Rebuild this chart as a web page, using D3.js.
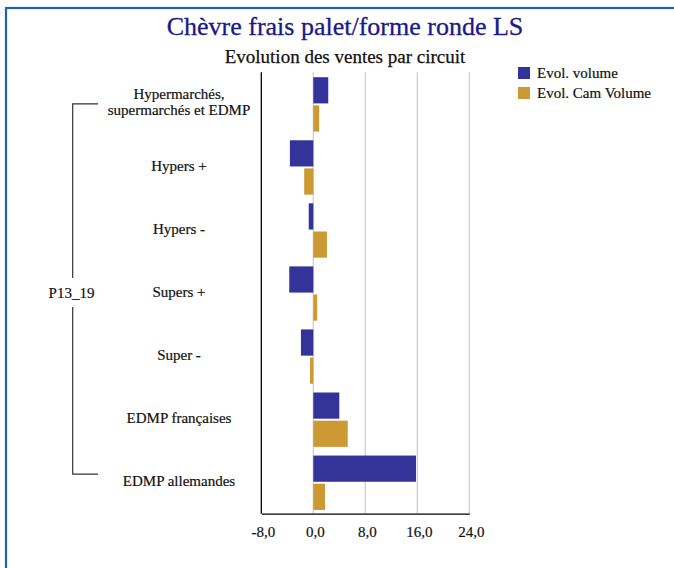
<!DOCTYPE html>
<html>
<head>
<meta charset="utf-8">
<script src="https://cdn.jsdelivr.net/npm/d3@7"></script>
<style>
  html, body { margin: 0; padding: 0; background: #fff; }
  svg { display: block; }
  text { font-family: "Liberation Serif", "Times New Roman", serif; }
</style>
</head>
<body>
<script>
const categories = [
  ["Hypermarchés,", "supermarchés et EDMP"],
  ["Hypers +"],
  ["Hypers -"],
  ["Supers +"],
  ["Super -"],
  ["EDMP françaises"],
  ["EDMP allemandes"]
];
const seriesNames = ["Evol. volume", "Evol. Cam Volume"];
const evolVolume    = [2.3, -3.6, -0.7, -3.7, -1.9, 4.0, 15.8];
const evolCamVolume = [0.9, -1.4,  2.1,  0.6, -0.5, 5.3,  1.8];
const tickValues = [-8, 0, 8, 16, 24];
const groupLabel = "P13_19";
const chartTitle = "Chèvre frais palet/forme ronde LS";
const chartSubtitle = "Evolution des ventes par circuit";
const colors = ["#333399", "#CC9933"];

const W = 674, H = 568;
const svg = d3.select("body").append("svg").attr("width", W).attr("height", H);

// frame
svg.append("rect").attr("x", 6).attr("y", 8).attr("width", W + 20).attr("height", H + 20)
  .attr("fill", "none").attr("stroke", "#1f62b3").attr("stroke-width", 2.2);

svg.append("text").attr("x", 345).attr("y", 35).attr("text-anchor", "middle")
  .attr("font-size", 26).attr("fill", "#1a1a86").attr("stroke", "#1a1a86").attr("stroke-width", 0.3)
  .text(chartTitle);
svg.append("text").attr("x", 345).attr("y", 62.5).attr("text-anchor", "middle")
  .attr("font-size", 19).attr("fill", "#111").attr("stroke", "#111").attr("stroke-width", 0.25)
  .text(chartSubtitle);

const pLeft = 261.3, pRight = 469.3, pTop = 72.3, pBottom = 513.7;
const x = d3.scaleLinear().domain([-8, 24]).range([pLeft, pRight]);
const y = d3.scaleBand().domain(d3.range(categories.length)).range([pTop, pBottom]).padding(0);
const bw = y.bandwidth();
const yi = d3.scaleBand().domain([0, 1]).range([bw * 0.078, bw * 0.94]).paddingInner(0.07);

// gridlines
svg.append("g").selectAll("line").data(tickValues.filter(v => v !== -8)).join("line")
  .attr("x1", d => x(d)).attr("x2", d => x(d)).attr("y1", pTop).attr("y2", pBottom)
  .attr("stroke", "#cfcfcf").attr("stroke-width", 1.3);

// bars
const data = categories.map((c, i) => ({ i, vals: [evolVolume[i], evolCamVolume[i]] }));
const g = svg.append("g");
data.forEach(d => {
  d.vals.forEach((v, s) => {
    g.append("rect")
      .attr("x", x(Math.min(0, v)))
      .attr("y", y(d.i) + yi(s))
      .attr("width", Math.abs(x(v) - x(0)))
      .attr("height", yi.bandwidth())
      .attr("fill", colors[s]);
  });
});

// axes lines
svg.append("line").attr("x1", pLeft).attr("x2", pLeft).attr("y1", pTop).attr("y2", pBottom)
  .attr("stroke", "#000").attr("stroke-width", 1.3);
const xAxis = svg.append("g").attr("transform", `translate(0,${pBottom})`)
  .call(d3.axisBottom(x).tickValues(tickValues).tickSize(0).tickPadding(13)
    .tickFormat(d => d3.format(".1f")(d).replace(".", ",").replace("−", "-")));
xAxis.select(".domain").attr("stroke", "#000").attr("stroke-width", 1.3);
xAxis.selectAll("text").attr("font-size", 15).attr("fill", "#111")
  .attr("font-family", "Liberation Serif, serif").attr("dx", 1.5)
  .attr("stroke", "#111").attr("stroke-width", 0.2);

// category labels
const labels = svg.append("g");
categories.forEach((c, i) => {
  const cy = y(i) + bw / 2;
  const t = labels.append("text").attr("text-anchor", "middle").attr("font-size", 15)
    .attr("fill", "#111").attr("stroke", "#111").attr("stroke-width", 0.2);
  if (c.length === 1) {
    t.append("tspan").attr("x", 179).attr("y", cy + 4).text(c[0]);
  } else {
    c.forEach((line, k) => {
      t.append("tspan").attr("x", 179).attr("y", cy - 5 + k * 16).text(line);
    });
  }
});

// bracket
const bTop = y(0) + bw / 2, bBot = y(categories.length - 1) + bw / 2 - 8;
const bx = 72.7, bMid = (bTop + bBot) / 2 + 4;
const br = svg.append("g").attr("stroke", "#333").attr("stroke-width", 1.2).attr("fill", "none");
br.append("path").attr("d", `M98,${bTop}H${bx}V${bMid - 15}`);
br.append("path").attr("d", `M98,${bBot}H${bx}V${bMid + 14}`);
svg.append("text").attr("x", 71.5).attr("y", bMid + 5).attr("text-anchor", "middle")
  .attr("font-size", 15).attr("fill", "#111").attr("stroke", "#111").attr("stroke-width", 0.2)
  .text(groupLabel);

// legend
const lg = svg.append("g");
seriesNames.forEach((n, s) => {
  lg.append("rect").attr("x", 518).attr("y", 67 + s * 20).attr("width", 12).attr("height", 12).attr("fill", colors[s]);
  lg.append("text").attr("x", 537).attr("y", 77.5 + s * 20).attr("font-size", 15)
    .attr("fill", "#111").attr("stroke", "#111").attr("stroke-width", 0.2).text(n);
});
</script>
</body>
</html>
